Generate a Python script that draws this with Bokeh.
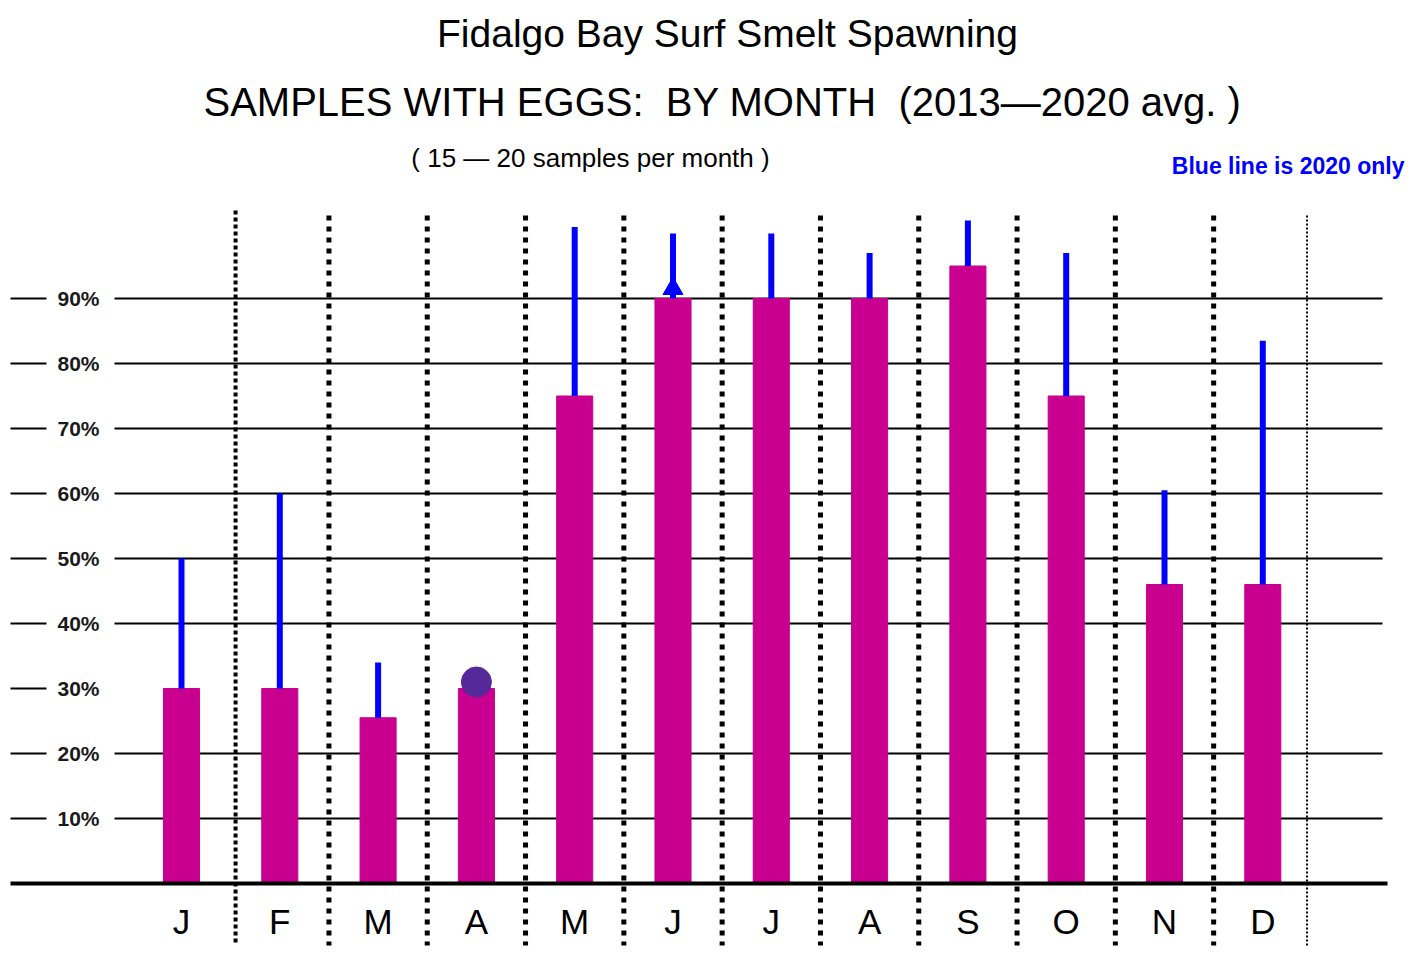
from bokeh.plotting import figure
from bokeh.models import Range1d, Label, ColumnDataSource
from bokeh.core.properties import value
from bokeh.embed import file_html
from bokeh.resources import INLINE

# ---------------- data ----------------
months = ["J", "F", "M", "A", "M", "J", "J", "A", "S", "O", "N", "D"]
avg_2013_2020 = [30, 30, 25.5, 30, 75, 90, 90, 90, 95, 75, 46, 46]
only_2020 = [50, 60, 34, 31, 101, 100, 100, 97, 102, 97, 60.5, 83.5]
grid_levels = [10, 20, 40, 50, 60, 70, 80, 90]
tick_levels = [10, 20, 30, 40, 50, 60, 70, 80, 90]
tick_labels = ["10%", "20%", "30%", "40%", "50%", "60%", "70%", "80%", "90%"]

NB = "\u00a0"
title1 = "Fidalgo Bay Surf Smelt Spawning"
title2 = f"SAMPLES WITH EGGS:{NB} BY MONTH{NB} (2013\u20142020 avg. )"
subtitle = "( 15 \u2014 20 samples per month )"
note = "Blue line is 2020 only"

# ---------------- layout helpers (picture pixels -> data) ----------------
W, H = 1406, 946
X0, XS = 181.0, 98.3
Y0, YS = 883.0, 6.5


def xd(px):
    return (px - X0) / XS


def yd(py):
    return (Y0 - py) / YS


FONT_NAME = "Liberation Sans"
FONT = value(FONT_NAME)
MAGENTA = "#c9008f"
BLUE = "#0000ff"
PURPLE = "#55299a"

p = figure(width=W, height=H, output_backend="svg", toolbar_location=None,
           x_range=Range1d(xd(0), xd(W)), y_range=Range1d(yd(H), yd(0)),
           min_border=0, outline_line_color=None)
p.axis.visible = False
p.grid.visible = False
p.background_fill_color = "white"
p.border_fill_color = "white"

idx = list(range(len(months)))

# horizontal grid lines (with gap for labels)
p.segment(x0=[xd(114)] * len(grid_levels), x1=[xd(1382)] * len(grid_levels),
          y0=grid_levels, y1=grid_levels, line_color="black", line_width=2)
# left tick stubs
p.segment(x0=[xd(10)] * len(tick_levels), x1=[xd(46)] * len(tick_levels),
          y0=tick_levels, y1=tick_levels, line_color="black", line_width=2)

# dotted month separators
seps = [i + 0.5 for i in idx]
p.segment(x0=[seps[0] + 0.05], x1=[seps[0] + 0.05], y0=[yd(210)], y1=[yd(945)],
          line_color="black", line_width=4, line_dash="4 3")
p.segment(x0=seps[1:11], x1=seps[1:11], y0=[yd(215)] * 10, y1=[yd(945)] * 10,
          line_color="black", line_width=5, line_dash="5 6")
p.segment(x0=[seps[11] - 0.05], x1=[seps[11] - 0.05], y0=[yd(215)], y1=[yd(950)],
          line_color="black", line_width=2, line_dash="2 2")

# bars
src = ColumnDataSource(dict(x=idx, avg=avg_2013_2020, y2020=only_2020))
p.vbar(x="x", top="avg", bottom=0, width=0.367, source=src,
       fill_color=MAGENTA, line_color=MAGENTA)

# 2020 lines (April shown as a dot instead)
line_idx = [i for i in idx if i != 3]
p.segment(x0=[idx[i] for i in line_idx], x1=[idx[i] for i in line_idx],
          y0=[avg_2013_2020[i] for i in line_idx], y1=[only_2020[i] for i in line_idx],
          line_color=BLUE, line_width=6)
# June arrowhead
p.scatter(x=[idx[5]], y=[avg_2013_2020[5] + 1.5], marker="triangle", size=20,
          fill_color=BLUE, line_color=BLUE)
# April 2020 dot
p.scatter(x=[idx[3]], y=[only_2020[3]], marker="circle", size=30,
          fill_color=PURPLE, line_color=PURPLE)

# baseline
p.segment(x0=[xd(10)], x1=[xd(1387)], y0=[0], y1=[0], line_color="black", line_width=4)

# tick labels
p.text(x=[xd(99)] * len(tick_levels), y=tick_levels, text=tick_labels,
       text_align="right", text_baseline="middle", text_font=FONT,
       text_font_size="21px", text_font_style="bold", text_color="#1a1a1a")

# month labels
p.text(x=idx, y=[yd(921)] * len(idx), text=months, text_align="center",
       text_baseline="middle", text_font=FONT, text_font_size="35px",
       text_color="black")

# titles
p.add_layout(Label(x=xd(727), y=yd(33), text=title1, text_align="center",
                   text_baseline="middle", text_font=FONT_NAME, text_font_size="39px",
                   text_color="black"))
p.add_layout(Label(x=xd(722), y=yd(101), text=title2, text_align="center",
                   text_baseline="middle", text_font=FONT_NAME, text_font_size="40px",
                   text_color="black"))
p.add_layout(Label(x=xd(590), y=yd(157), text=subtitle, text_align="center",
                   text_baseline="middle", text_font=FONT_NAME, text_font_size="26px",
                   text_color="black"))
p.add_layout(Label(x=xd(1404), y=yd(165), text=note, text_align="right",
                   text_baseline="middle", text_font=FONT_NAME, text_font_size="23px",
                   text_font_style="bold", text_color=BLUE))

open("out.html", "w").write(file_html(p, INLINE))
